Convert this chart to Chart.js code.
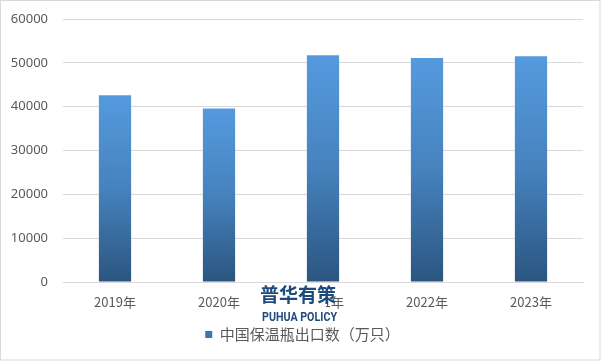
<!DOCTYPE html>
<html>
<head>
<meta charset="utf-8">
<script src="https://cdn.jsdelivr.net/npm/chart.js@4/dist/chart.umd.min.js"></script>
<style>
html,body{margin:0;padding:0;background:#fff;}
canvas{display:block;}
</style>
</head>
<body>
<canvas id="c" width="601" height="361"></canvas>
<script>
const categories = ['2019年', '2020年', '2021年', '2022年', '2023年'];
const exportValues = [42600, 39600, 51750, 51100, 51500];
const seriesName = '中国保温瓶出口数（万只）';
const yTicks = [0, 10000, 20000, 30000, 40000, 50000, 60000];

const FONT = "'Noto Sans CJK SC', 'Noto Sans', sans-serif";
const TEXT = '#595959';

function barGradient(ctx) {
  const chart = ctx.chart;
  const area = chart.chartArea;
  if (!area || ctx.type !== 'data') return '#4a86c5';
  const ys = chart.scales.y;
  const top = ys.getPixelForValue(ctx.parsed.y);
  const bottom = ys.getPixelForValue(0);
  const g = chart.ctx.createLinearGradient(0, top, 0, bottom);
  g.addColorStop(0, '#559ade');
  g.addColorStop(0.5, '#4682bd');
  g.addColorStop(1, '#2b5580');
  return g;
}

const extras = {
  id: 'extras',
  afterLayout(chart) {
    if (chart.legend) {
      chart.legend.left += 11;
      chart.legend.right += 11;
    }
  },
  beforeDraw(chart) {
    const c = chart.ctx;
    c.save();
    c.fillStyle = '#fff';
    c.fillRect(0, 0, chart.width, chart.height);
    c.restore();
  },
  afterDraw(chart) {
    const c = chart.ctx;
    c.save();
    c.strokeStyle = '#d9d9d9';
    c.lineWidth = 1;
    c.strokeRect(0.5, 0.5, 599.5, 359.5);
    // watermark logo
    c.fillStyle = '#fff';
    c.fillRect(256, 287, 70, 22);
    c.fillStyle = '#1f4b7c';
    c.textAlign = 'left';
    c.textBaseline = 'middle';
    c.font = "bold 19px 'Noto Sans CJK SC', sans-serif";
    c.fillText('普华有策', 260, 295, 77);
    c.font = "bold 13px 'Liberation Sans Narrow', 'Roboto', sans-serif";
    c.fillText('PUHUA POLICY', 262, 318, 75);
    c.restore();
  }
};

new Chart(document.getElementById('c'), {
  type: 'bar',
  data: {
    labels: categories,
    datasets: [{
      label: seriesName,
      data: exportValues,
      backgroundColor: barGradient,
      borderWidth: 0,
      barPercentage: 0.31,
      categoryPercentage: 1.0
    }]
  },
  options: {
    responsive: false,
    animation: false,
    devicePixelRatio: 1,
    layout: { padding: { left: 0, right: 18, top: 19, bottom: 9 } },
    plugins: {
      tooltip: { enabled: false },
      legend: {
        position: 'bottom',
        labels: {
          font: { family: FONT, size: 15 },
          color: TEXT,
          boxWidth: 7,
          boxHeight: 7,
          padding: 10,
          generateLabels(chart) {
            return [{
              text: seriesName,
              fillStyle: '#3f75ab',
              strokeStyle: '#3f75ab',
              lineWidth: 0,
              fontColor: TEXT,
              datasetIndex: 0,
              hidden: false
            }];
          }
        }
      }
    },
    scales: {
      x: {
        grid: { display: false, drawTicks: false },
        border: { display: true, color: '#d9d9d9' },
        ticks: { font: { family: FONT, size: 13 }, color: TEXT, padding: 12, maxRotation: 0 },
        afterFit(s) { s.height = 35; s.paddingLeft = 0; s.paddingRight = 0; }
      },
      y: {
        min: 0,
        max: 60000,
        afterBuildTicks(s) { s.ticks = yTicks.map(v => ({ value: v })); },
        grid: { color: '#d9d9d9', drawTicks: false },
        border: { display: false },
        ticks: { font: { family: "'Noto Sans', sans-serif", size: 13 }, color: TEXT, padding: 15,
                 callback: v => String(v) },
        afterFit(s) { s.width = 63; s.paddingTop = 0; s.paddingBottom = 0; }
      }
    }
  },
  plugins: [extras]
});
</script>
</body>
</html>
